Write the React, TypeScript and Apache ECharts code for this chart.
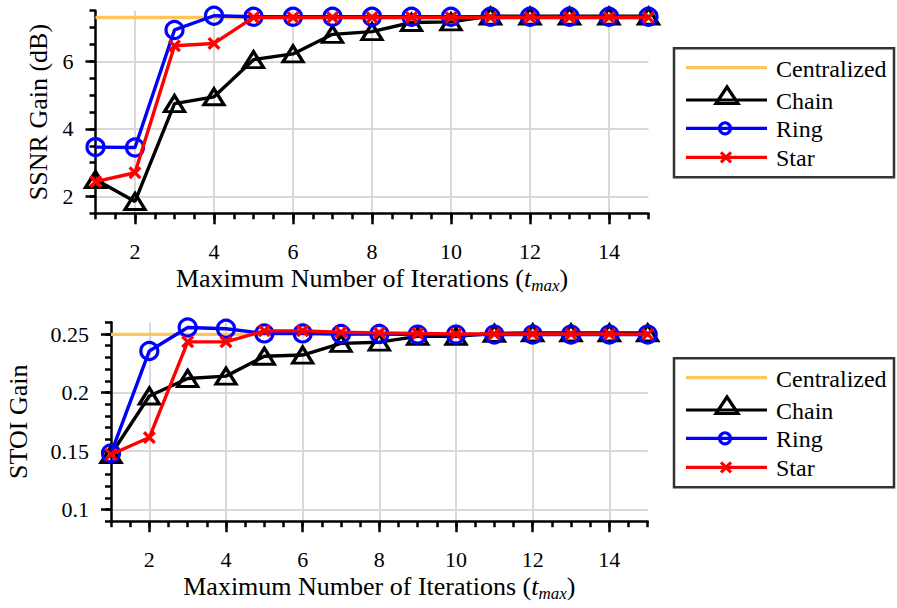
import React, { useEffect, useRef } from "react";
import * as echarts from "echarts";

// ---------- data ----------
const iterations = [1, 2, 3, 4, 5, 6, 7, 8, 9, 10, 11, 12, 13, 14, 15];
const xTickLabels = [2, 4, 6, 8, 10, 12, 14];

const ssnrTickLabels = [2, 4, 6];
const ssnrCentralized = [7.3, 7.3, 7.3, 7.3, 7.3, 7.3, 7.3, 7.3, 7.3, 7.3, 7.3, 7.3, 7.3, 7.3, 7.3];
const ssnrChain = [2.5, 1.85, 4.75, 4.95, 6.05, 6.22, 6.8, 6.88, 7.15, 7.17, 7.34, 7.34, 7.34, 7.34, 7.34];
const ssnrRing = [3.46, 3.45, 6.93, 7.35, 7.32, 7.32, 7.32, 7.32, 7.32, 7.32, 7.32, 7.32, 7.32, 7.32, 7.32];
const ssnrStar = [2.44, 2.7, 6.46, 6.53, 7.3, 7.3, 7.3, 7.3, 7.3, 7.3, 7.3, 7.3, 7.3, 7.3, 7.3];

const stoiTickLabels = [0.1, 0.15, 0.2, 0.25];
const stoiCentralized = [0.2497, 0.2497, 0.2497, 0.2497, 0.2497, 0.2497, 0.2497, 0.2497, 0.2497, 0.2497, 0.2497, 0.2497, 0.2497, 0.2497, 0.2497];
const stoiChain = [0.147, 0.197, 0.212, 0.214, 0.231, 0.232, 0.242, 0.243, 0.248, 0.248, 0.2505, 0.251, 0.251, 0.251, 0.251];
const stoiRing = [0.148, 0.2355, 0.2555, 0.2545, 0.2505, 0.2505, 0.25, 0.25, 0.2495, 0.2495, 0.2495, 0.2495, 0.2495, 0.2495, 0.2495];
const stoiStar = [0.147, 0.1615, 0.2433, 0.2433, 0.2527, 0.2527, 0.2515, 0.251, 0.2505, 0.25, 0.25, 0.25, 0.25, 0.25, 0.2498];

const legendNames = ["Centralized", "Chain", "Ring", "Star"];
const xAxisTitle = "{a|Maximum Number of Iterations (}{i|t}{s|max}{a|)}";
const ssnrTitle = "SSNR Gain (dB)";
const stoiTitle = "STOI Gain";

// ---------- styles ----------
const FONT = "Liberation Serif";
const COLORS: any = { Centralized: "#fbc75d", Chain: "#000000", Ring: "#0000ff", Star: "#ff0000" };
const X_SYMBOL = "path://M0,1.8L1.8,0L5,3.2L8.2,0L10,1.8L6.8,5L10,8.2L8.2,10L5,6.8L1.8,10L0,8.2L3.2,5Z";

const panels: any[] = [
  {
    grid: { left: 95.5, top: 10.7, width: 553, height: 202.6 },
    yMin: 1.5, yMax: 7.5, yMinor: 0.5, yTicks: ssnrTickLabels,
    yName: ssnrTitle, yNameGap: 41, xNameGap: 50,
    data: [ssnrCentralized, ssnrChain, ssnrRing, ssnrStar],
    legendTop: 48.3,
  },
  {
    grid: { left: 111, top: 322.3, width: 536.7, height: 198.9 },
    yMin: 0.09, yMax: 0.26, yMinor: 0.01, yTicks: stoiTickLabels,
    yName: stoiTitle, yNameGap: 80, xNameGap: 50,
    data: [stoiCentralized, stoiChain, stoiRing, stoiStar],
    legendTop: 358.3,
  },
];

function buildOption() {
  const grids: any[] = [], xAxes: any[] = [], yAxes: any[] = [], series: any[] = [], graphics: any[] = [];
  panels.forEach((p, pi) => {
    grids.push({ ...p.grid, containLabel: false, outerBoundsMode: "none" });

    xAxes.push({
      type: "value", gridIndex: pi, min: 1, max: 15, interval: 0.5, position: "bottom",
      axisLine: { show: true, onZero: false, lineStyle: { color: "#000", width: 2.5 } },
      axisTick: { show: true, inside: false, length: 6, lineStyle: { color: "#000", width: 2.5 } },
      axisLabel: { show: false }, splitLine: { show: false },
    });
    xAxes.push({
      type: "value", gridIndex: pi, min: 1, max: 15, position: "bottom",
      axisLine: { show: false, onZero: false },
      axisTick: { show: true, inside: false, length: 11, customValues: xTickLabels, lineStyle: { color: "#000", width: 2.5 } },
      axisLabel: { show: true, customValues: xTickLabels, margin: 27, color: "#000", fontFamily: FONT, fontSize: 22 },
      splitLine: { show: true, lineStyle: { color: "#d9d9d9", width: 2 } },
      name: xAxisTitle, nameLocation: "middle", nameGap: p.xNameGap,
      nameTextStyle: {
        color: "#000", fontFamily: FONT, fontSize: 26,
        rich: {
          a: { fontFamily: FONT, fontSize: 26, color: "#000", lineHeight: 31 },
          i: { fontFamily: FONT, fontSize: 26, fontStyle: "italic", color: "#000", lineHeight: 31 },
          s: { fontFamily: FONT, fontSize: 17, fontStyle: "italic", color: "#000", lineHeight: 17, padding: [14, 0, 0, 0] },
        },
      },
    });

    yAxes.push({
      type: "value", gridIndex: pi, min: p.yMin, max: p.yMax, interval: p.yMinor, position: "left",
      axisLine: { show: true, onZero: false, lineStyle: { color: "#000", width: 2.5 } },
      axisTick: { show: true, inside: false, length: 6, lineStyle: { color: "#000", width: 2.5 } },
      axisLabel: { show: false }, splitLine: { show: false },
    });
    yAxes.push({
      type: "value", gridIndex: pi, min: p.yMin, max: p.yMax, position: "left",
      axisLine: { show: false, onZero: false },
      axisTick: { show: true, inside: false, length: 10, customValues: p.yTicks, lineStyle: { color: "#000", width: 2.5 } },
      axisLabel: { show: true, customValues: p.yTicks, margin: 22, color: "#000", fontFamily: FONT, fontSize: 22 },
      splitLine: { show: true, lineStyle: { color: "#d9d9d9", width: 2 } },
      name: p.yName, nameLocation: "middle", nameRotate: 90, nameGap: p.yNameGap,
      nameTextStyle: { color: "#000", fontFamily: FONT, fontSize: 26 },
    });

    const pairs = (arr: number[]) => iterations.map((x, i) => [x, arr[i]]);
    const common: any = { type: "line", xAxisIndex: pi * 2, yAxisIndex: pi * 2, clip: false, silent: true, showAllSymbol: true };
    const sers = [
      { name: legendNames[0], data: pairs(p.data[0]), symbol: "none", lineStyle: { color: COLORS.Centralized, width: 3.4 } },
      {
        name: legendNames[1], data: pairs(p.data[1]), symbol: "triangle", symbolSize: [20, 16],
        lineStyle: { color: COLORS.Chain, width: 3.4 },
        itemStyle: { color: "rgba(0,0,0,0)", borderColor: COLORS.Chain, borderWidth: 3.2 },
      },
      {
        name: legendNames[2], data: pairs(p.data[2]), symbol: "circle", symbolSize: 17,
        lineStyle: { color: COLORS.Ring, width: 3.4 },
        itemStyle: { color: "rgba(0,0,0,0)", borderColor: COLORS.Ring, borderWidth: 3.2 },
      },
      {
        name: legendNames[3], data: pairs(p.data[3]), symbol: X_SYMBOL, symbolSize: 13,
        lineStyle: { color: COLORS.Star, width: 3.4 }, itemStyle: { color: COLORS.Star },
      },
    ];
    sers.forEach((s, k) => series.push({ ...common, ...s, z: 2 + k }));

    const top = p.legendTop;
    const rows = [19.4, 51.7, 80, 109];
    graphics.push({ type: "rect", shape: { x: 674, y: top, width: 220, height: 129 }, style: { fill: "#fff", stroke: "#333", lineWidth: 2.5 } });
    legendNames.forEach((name, k) => {
      const cy = top + rows[k];
      const c = COLORS[name];
      graphics.push({ type: "line", shape: { x1: 686, y1: cy, x2: 767, y2: cy }, style: { stroke: c, lineWidth: 3.2 } });
      if (name === "Chain") {
        graphics.push({ type: "polygon", shape: { points: [[716, cy + 3.5], [738, cy + 3.5], [727, cy - 13]] }, style: { fill: "none", stroke: c, lineWidth: 3.2 } });
      } else if (name === "Ring") {
        graphics.push({ type: "circle", shape: { cx: 725, cy: cy, r: 5.5 }, style: { fill: "none", stroke: c, lineWidth: 3.2 } });
      } else if (name === "Star") {
        graphics.push({ type: "line", shape: { x1: 721, y1: cy - 5, x2: 731, y2: cy + 5 }, style: { stroke: c, lineWidth: 3.2 } });
        graphics.push({ type: "line", shape: { x1: 721, y1: cy + 5, x2: 731, y2: cy - 5 }, style: { stroke: c, lineWidth: 3.2 } });
      }
      graphics.push({ type: "text", x: 776, y: cy - 11, style: { text: name, fill: "#000", fontFamily: FONT, fontSize: 24 } });
    });
  });

  return {
    animation: false,
    backgroundColor: "#ffffff",
    grid: grids,
    xAxis: xAxes,
    yAxis: yAxes,
    series,
    graphic: { elements: graphics },
  };
}

function ChartPanel() {
  const ref = useRef<HTMLDivElement>(null);
  useEffect(() => {
    if (!ref.current) return;
    const chart = echarts.init(ref.current, undefined, { renderer: "svg" });
    chart.setOption(buildOption());
    return () => chart.dispose();
  }, []);
  return (
    <div style={{ width: 897, height: 608, overflow: "hidden", display: "inline-block", verticalAlign: "top" }}>
      <div ref={ref} style={{ width: 897, height: 608, transform: "scale(1)", transformOrigin: "0 0", background: "#fff" }} />
    </div>
  );
}

export default function App() {
  return (
    <div style={{ position: "fixed", left: 0, top: 0, width: 897, height: 608, background: "#fff", fontSize: 0 }}>
      <ChartPanel />
    </div>
  );
}
